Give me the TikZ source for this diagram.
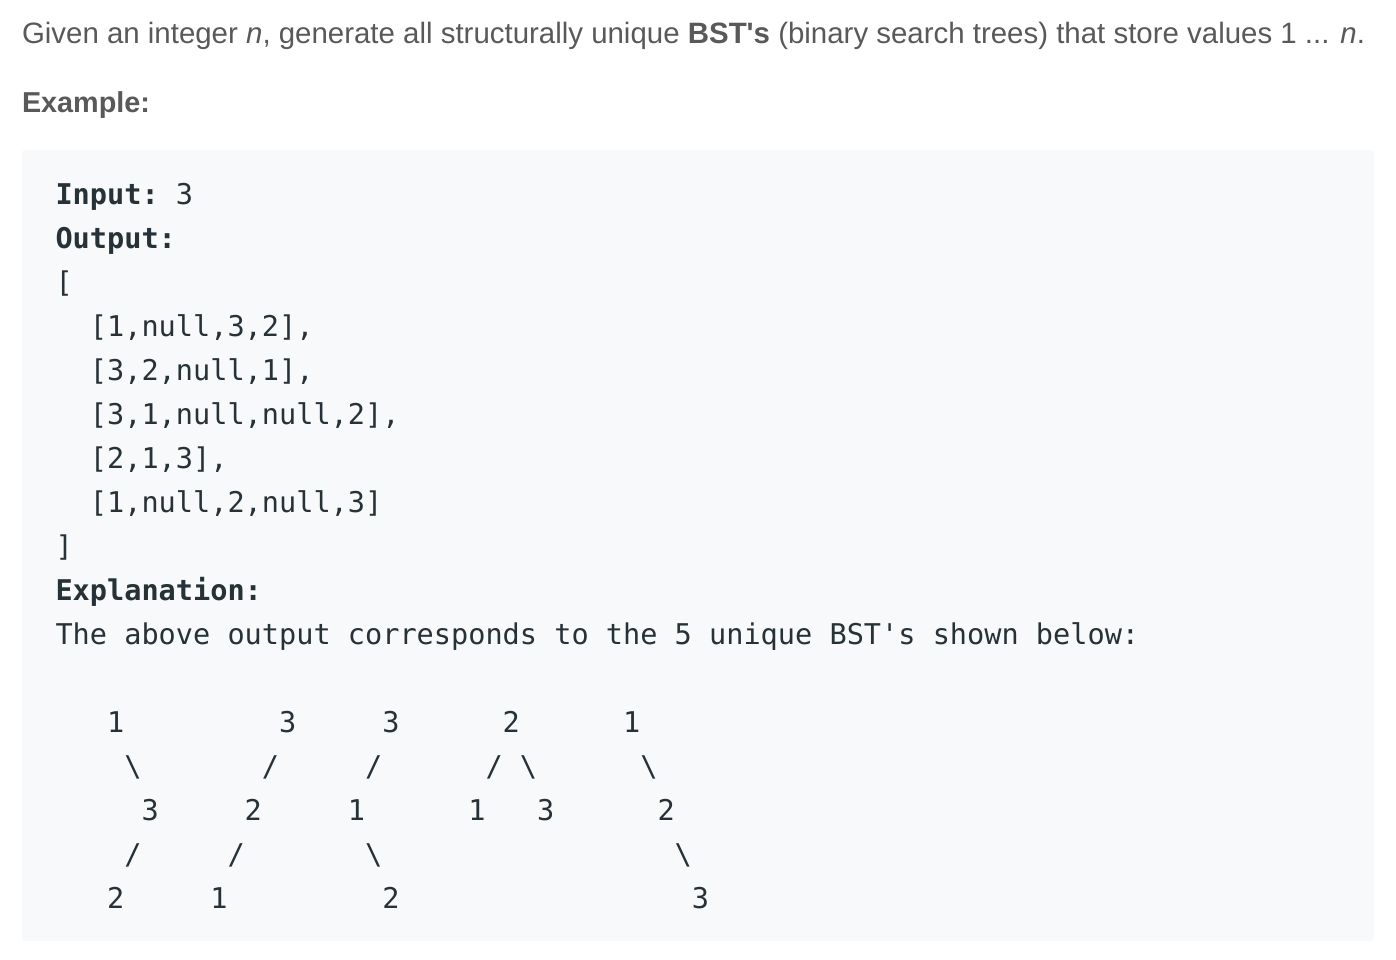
\documentclass[tikz,border=0pt]{standalone}
\usepackage{fontspec}
\newfontfamily\hdrfont{Liberation Sans}
\newfontfamily\codefont{DejaVu Sans Mono}
\definecolor{hdrgray}{HTML}{595959}
\definecolor{codebg}{HTML}{F7F9FA}
\definecolor{codefg}{HTML}{263238}
\newlength\pxu
\setlength\pxu{0.75pt}
\newcommand\trch[4]{\node[codech] (#1) at ({55.5+17.2*(#2+0.5)},{204+44*#3}) {#4};}
\newcommand\codeln[4]{\node[codeline] (#1) at ({55.5+17.2*#2},{204+44*#3}) {#4};}
\begin{document}
\begin{tikzpicture}[x=0.75pt,y=-0.75pt,
  hdr/.style={inner sep=0pt,outer sep=0pt,anchor=base west,text=hdrgray,font=\hdrfont\fontsize{21pt}{25pt}\selectfont},
  codeline/.style={inner sep=0pt,outer sep=0pt,anchor=base west,text=codefg,font=\codefont\fontsize{21.43pt}{33pt}\selectfont\frenchspacing},
  codech/.style={inner sep=0pt,outer sep=0pt,anchor=base,text=codefg,font=\codefont\fontsize{21.43pt}{33pt}\selectfont}]
\useasboundingbox (0,0) rectangle (1396,960);
\fill[white] (0,0) rectangle (1396,960);
\fill[codebg,rounded corners=2.25pt] (22,150) rectangle (1374,941);
% header
\node[hdr] (title) at (22,43) {\resizebox{1343\pxu}{!}{Given an integer \textit{n}, generate all structurally unique \textbf{BST's} (binary search trees) that store values 1 ... \textit{n}.}};
\node[hdr] (example) at (22,112) {\resizebox{128\pxu}{!}{\textbf{Example:}}};
% code lines
\codeln{l0}{0}{0}{\textbf{Input:}~3}
\codeln{l1}{0}{1}{\textbf{Output:}}
\codeln{l2}{0}{2}{[}
\codeln{l3}{2}{3}{[1,null,3,2],}
\codeln{l4}{2}{4}{[3,2,null,1],}
\codeln{l5}{2}{5}{[3,1,null,null,2],}
\codeln{l6}{2}{6}{[2,1,3],}
\codeln{l7}{2}{7}{[1,null,2,null,3]}
\codeln{l8}{0}{8}{]}
\codeln{l9}{0}{9}{\textbf{Explanation:}}
\codeln{l10}{0}{10}{The above output corresponds to the 5 unique BST's shown below:}
% tree 1
\trch{aA}{3}{12}{1}
\trch{aB}{4}{13}{\textbackslash}
\trch{aC}{5}{14}{3}
\trch{aD}{4}{15}{/}
\trch{aE}{3}{16}{2}
% tree 2
\trch{bA}{13}{12}{3}
\trch{bB}{12}{13}{/}
\trch{bC}{11}{14}{2}
\trch{bD}{10}{15}{/}
\trch{bE}{9}{16}{1}
% tree 3
\trch{cA}{19}{12}{3}
\trch{cB}{18}{13}{/}
\trch{cC}{17}{14}{1}
\trch{cD}{18}{15}{\textbackslash}
\trch{cE}{19}{16}{2}
% tree 4
\trch{dA}{26}{12}{2}
\trch{dB}{25}{13}{/}
\trch{dC}{27}{13}{\textbackslash}
\trch{dD}{24}{14}{1}
\trch{dE}{28}{14}{3}
% tree 5
\trch{eA}{33}{12}{1}
\trch{eB}{34}{13}{\textbackslash}
\trch{eC}{35}{14}{2}
\trch{eD}{36}{15}{\textbackslash}
\trch{eE}{37}{16}{3}
\end{tikzpicture}
\end{document}
